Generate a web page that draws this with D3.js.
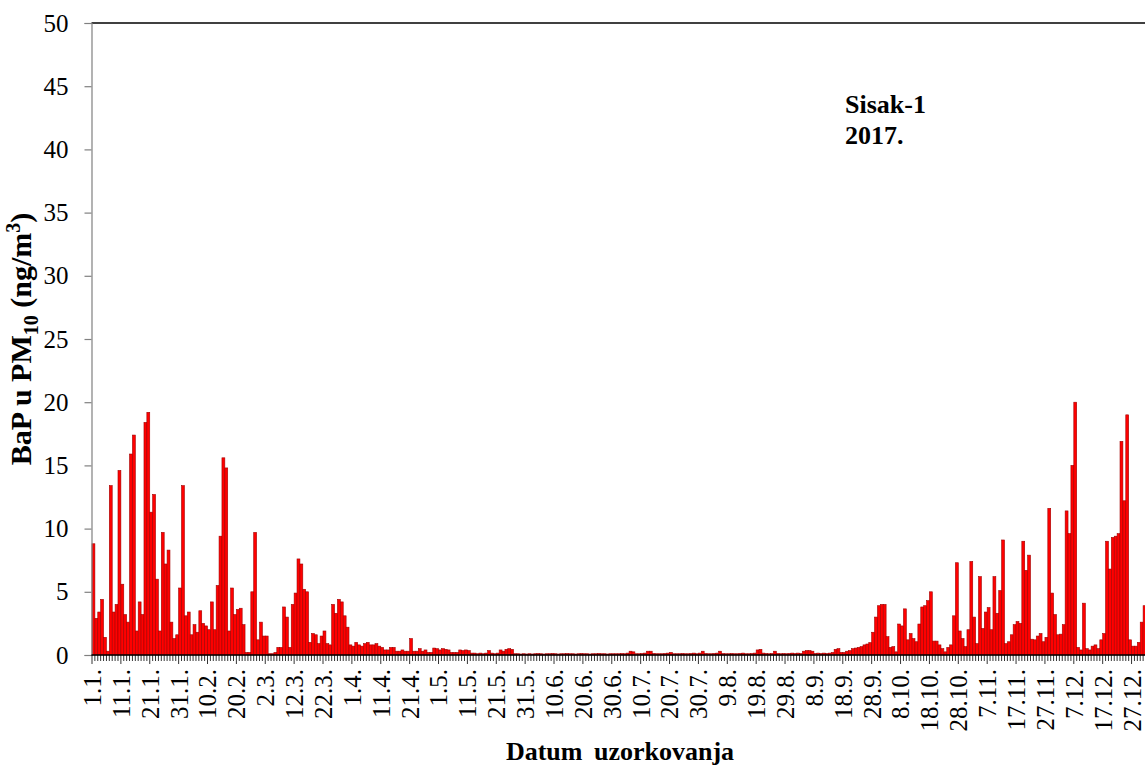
<!DOCTYPE html>
<html>
<head>
<meta charset="utf-8">
<script src="https://cdn.jsdelivr.net/npm/d3@7"></script>
<style>
  body { margin: 0; background: #fff; }
  svg { display: block; }
  text { font-family: "Liberation Serif", "Times New Roman", serif; fill: #000; }
</style>
</head>
<body>
<svg id="chart" width="1145" height="766"></svg>
<script>
// Daily BaP concentration in PM10 (ng/m3), Sisak-1, 2017 — one array per month
const jan = [8.8, 2.9, 3.4, 4.4, 1.4, 0.3, 13.4, 3.4, 4.0, 14.6, 5.6, 3.2, 2.6, 15.9, 17.4, 1.9, 4.2, 3.2, 18.4, 19.2, 11.3, 12.7, 6.0, 1.9, 9.7, 7.2, 8.3, 2.6, 1.3, 1.6, 5.3];
const feb = [13.4, 3.1, 3.4, 1.6, 2.4, 1.8, 3.5, 2.5, 2.3, 2.0, 4.2, 2.0, 5.5, 9.4, 15.6, 14.8, 1.9, 5.3, 3.2, 3.6, 3.7, 2.4, 0.2, 0.2, 5.0, 9.7, 1.2, 2.6];
const mar = [1.5, 1.5, 0.1, 0.1, 0.2, 0.6, 0.6, 3.8, 3.0, 0.6, 4.0, 4.9, 7.6, 7.2, 5.2, 5.0, 1.0, 1.7, 1.6, 0.9, 1.5, 1.9, 0.9, 0.8, 4.0, 3.3, 4.4, 4.2, 3.1, 2.2, 0.8];
const apr = [0.7, 1.0, 0.8, 0.7, 0.9, 1.0, 0.8, 0.8, 0.9, 0.7, 0.6, 0.4, 0.4, 0.6, 0.6, 0.3, 0.3, 0.4, 0.3, 0.3, 1.3, 0.3, 0.3, 0.5, 0.3, 0.4, 0.2, 0.2, 0.55, 0.5];
const may = [0.4, 0.5, 0.45, 0.4, 0.2, 0.2, 0.2, 0.4, 0.35, 0.4, 0.35, 0.15, 0.15, 0.1, 0.15, 0.1, 0.15, 0.35, 0.15, 0.1, 0.15, 0.4, 0.3, 0.45, 0.5, 0.45, 0.1, 0.1, 0.08, 0.1, 0.08];
const jun = [0.1, 0.08, 0.1, 0.12, 0.1, 0.08, 0.1, 0.1, 0.12, 0.1, 0.08, 0.1, 0.1, 0.12, 0.1, 0.1, 0.08, 0.1, 0.12, 0.1, 0.1, 0.08, 0.1, 0.1, 0.12, 0.1, 0.1, 0.08, 0.1, 0.1];
const jul = [0.1, 0.1, 0.12, 0.1, 0.15, 0.3, 0.25, 0.1, 0.1, 0.12, 0.15, 0.3, 0.3, 0.12, 0.1, 0.1, 0.1, 0.12, 0.15, 0.2, 0.1, 0.1, 0.1, 0.12, 0.1, 0.1, 0.12, 0.15, 0.1, 0.15, 0.3];
const aug = [0.12, 0.1, 0.1, 0.12, 0.15, 0.3, 0.12, 0.1, 0.1, 0.12, 0.1, 0.1, 0.12, 0.15, 0.1, 0.1, 0.12, 0.15, 0.4, 0.45, 0.15, 0.12, 0.1, 0.12, 0.3, 0.12, 0.1, 0.12, 0.1, 0.12, 0.15];
const sep = [0.12, 0.15, 0.12, 0.3, 0.35, 0.35, 0.3, 0.12, 0.15, 0.12, 0.15, 0.12, 0.15, 0.2, 0.45, 0.5, 0.2, 0.2, 0.3, 0.35, 0.5, 0.55, 0.6, 0.66, 0.8, 0.87, 0.98, 1.8, 3.0, 3.9];
const oct = [4.0, 4.0, 1.45, 0.6, 0.66, 0.25, 2.45, 2.3, 3.65, 1.2, 1.7, 1.3, 1.05, 2.45, 3.8, 3.9, 4.3, 5.0, 1.1, 1.1, 0.8, 0.5, 0.25, 0.6, 0.8, 3.1, 7.3, 1.9, 1.3, 0.66, 2.0];
const nov = [7.4, 3.0, 0.9, 6.2, 2.1, 3.4, 3.75, 2.0, 6.2, 3.3, 5.1, 9.1, 0.9, 1.05, 1.6, 2.4, 2.65, 2.5, 9.0, 6.7, 7.9, 1.25, 1.2, 1.5, 1.7, 1.05, 1.4, 11.6, 4.9, 3.2];
const dec = [1.6, 1.65, 2.4, 11.4, 9.6, 15.0, 20.0, 0.6, 0.4, 4.1, 0.5, 0.4, 0.7, 0.8, 0.5, 1.2, 1.7, 9.0, 6.8, 9.3, 9.4, 9.6, 16.9, 12.2, 19.0, 1.2, 0.7, 0.7, 1.0, 2.6, 3.9];

// Labelled sampling dates on the category axis (every tenth day)
const tickLabels = ["1.1.", "11.1.", "21.1.", "31.1.", "10.2.", "20.2.", "2.3.", "12.3.", "22.3.",
  "1.4.", "11.4.", "21.4.", "1.5.", "11.5.", "21.5.", "31.5.", "10.6.", "20.6.", "30.6.",
  "10.7.", "20.7.", "30.7.", "9.8.", "19.8.", "29.8.", "8.9.", "18.9.", "28.9.",
  "8.10.", "18.10.", "28.10.", "7.11.", "17.11.", "27.11.", "7.12.", "17.12.", "27.12."];
const yTicks = [0, 5, 10, 15, 20, 25, 30, 35, 40, 45, 50];

const values = [].concat(jan, feb, mar, apr, may, jun, jul, aug, sep, oct, nov, dec);
const fmt = d3.timeFormat("%-d.%-m.");
const categories = d3.timeDay.range(new Date(2017, 0, 1), new Date(2018, 0, 1)).map(fmt);
const data = categories.map((c, i) => ({ date: c, value: values[i] }));

const svg = d3.select("#chart");
const plotLeft = 91.5, plotRight = 1146, plotTop = 23, plotBottom = 655;

const x = d3.scaleBand().domain(categories).range([92, plotRight]).padding(0);
const y = d3.scaleLinear().domain([0, 50]).range([plotBottom, plotTop]);

// bars
svg.append("g")
  .selectAll("rect")
  .data(data)
  .join("rect")
  .attr("x", d => x(d.date))
  .attr("width", x.bandwidth())
  .attr("y", d => y(d.value))
  .attr("height", d => plotBottom - y(d.value))
  .attr("fill", "#ff0000")
  .attr("stroke", "#a00000")
  .attr("stroke-width", 0.6);

// plot frame top edge
svg.append("line")
  .attr("x1", plotLeft).attr("x2", 1145)
  .attr("y1", plotTop).attr("y2", plotTop)
  .attr("stroke", "#000").attr("stroke-width", 1.5);

// value axis
const yAxis = svg.append("g")
  .attr("transform", `translate(${plotLeft},0)`)
  .call(d3.axisLeft(y).tickValues(yTicks).tickSize(7).tickPadding(16).tickFormat(d3.format("d")));
yAxis.select(".domain").attr("stroke", "#808080").attr("stroke-width", 1.2);
yAxis.selectAll(".tick line").attr("stroke", "#808080").attr("stroke-width", 1.2);
yAxis.selectAll(".tick text")
  .attr("font-size", 25)
  .attr("font-family", "Liberation Serif")
  .attr("fill", "#000");

// category axis: a tick at every day boundary, longer every tenth day
const tickG = svg.append("g");
tickG.selectAll("line")
  .data(categories)
  .join("line")
  .attr("x1", d => x(d)).attr("x2", d => x(d))
  .attr("y1", plotBottom)
  .attr("y2", (d, i) => plotBottom + (i % 10 === 0 ? 9 : 6))
  .attr("stroke", "#000").attr("stroke-width", 0.8);
svg.append("line")
  .attr("x1", plotLeft).attr("x2", 1145)
  .attr("y1", plotBottom).attr("y2", plotBottom)
  .attr("stroke", "#000").attr("stroke-width", 1.5);

const xAxis = svg.append("g")
  .attr("transform", `translate(0,${plotBottom})`)
  .call(d3.axisBottom(x).tickValues(tickLabels).tickSize(0));
xAxis.select(".domain").remove();
xAxis.selectAll(".tick text")
  .attr("font-size", 25)
  .attr("font-family", "Liberation Serif")
  .attr("fill", "#000")
  .attr("text-anchor", "end")
  .attr("transform", "translate(0,14) rotate(-90)")
  .attr("x", 0)
  .attr("y", 0)
  .attr("dy", "0.3em");

// axis titles
svg.append("text")
  .attr("x", 620).attr("y", 760)
  .attr("text-anchor", "middle")
  .attr("font-size", 26).attr("font-weight", "bold")
  .attr("word-spacing", 5)
  .text("Datum uzorkovanja");

const yTitle = svg.append("text")
  .attr("transform", "translate(31,339) rotate(-90)")
  .attr("text-anchor", "middle")
  .attr("font-size", 30).attr("font-weight", "bold");
yTitle.append("tspan").text("BaP u PM");
yTitle.append("tspan").attr("font-size", 20).attr("dy", 7).text("10");
yTitle.append("tspan").attr("dy", -7).text(" (ng/m");
yTitle.append("tspan").attr("font-size", 20).attr("dy", -11).text("3");
yTitle.append("tspan").attr("dy", 11).text(")");

// station label
const station = svg.append("text")
  .attr("font-size", 26).attr("font-weight", "bold");
station.append("tspan").attr("x", 845).attr("y", 113).text("Sisak-1");
station.append("tspan").attr("x", 845).attr("y", 144).text("2017.");
</script>
</body>
</html>
